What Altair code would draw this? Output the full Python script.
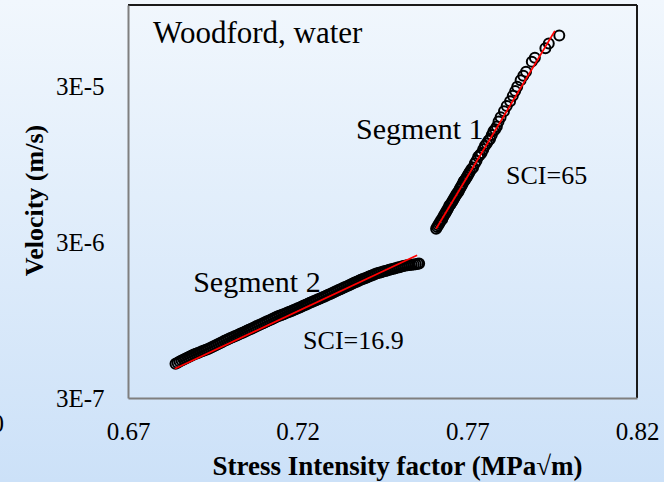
import altair as alt
import pandas as pd

# Segment 2 (slow branch): stress intensity factor K (MPa*sqrt(m)) and crack velocity (m/s)
k_seg2 = [
    0.6840, 0.6846, 0.6852, 0.6858, 0.6864, 0.6870, 0.6876, 0.6882, 0.6888, 0.6894,
    0.6900, 0.6906, 0.6912, 0.6918, 0.6924, 0.6930, 0.6936, 0.6942, 0.6948, 0.6954,
    0.6960, 0.6966, 0.6972, 0.6978, 0.6984, 0.6990, 0.6996, 0.7002, 0.7008, 0.7014,
    0.7020, 0.7026, 0.7032, 0.7038, 0.7044, 0.7050, 0.7056, 0.7062, 0.7068, 0.7074,
    0.7080, 0.7086, 0.7092, 0.7098, 0.7104, 0.7110, 0.7116, 0.7122, 0.7128, 0.7134,
    0.7140, 0.7146, 0.7152, 0.7158, 0.7164, 0.7170, 0.7176, 0.7182, 0.7188, 0.7194,
    0.7200, 0.7206, 0.7212, 0.7218, 0.7224, 0.7230, 0.7236, 0.7242, 0.7248, 0.7254,
    0.7260, 0.7266, 0.7272, 0.7278, 0.7284, 0.7290, 0.7296, 0.7302, 0.7308, 0.7314,
    0.7320, 0.7326, 0.7332, 0.7338, 0.7344, 0.7350, 0.7356, 0.7362, 0.7368, 0.7374,
    0.7380, 0.7386, 0.7392, 0.7398, 0.7404, 0.7410, 0.7416, 0.7422, 0.7428, 0.7434,
    0.7440, 0.7446, 0.7452, 0.7458, 0.7464, 0.7470, 0.7476, 0.7482, 0.7488, 0.7494,
    0.7500, 0.7506, 0.7512, 0.7518, 0.7524, 0.7530, 0.7536, 0.7542, 0.7548, 0.7554,
    0.7558,
]
v_seg2 = [
    4.98e-7, 5.06e-7, 5.14e-7, 5.22e-7, 5.30e-7, 5.38e-7, 5.46e-7, 5.54e-7, 5.62e-7, 5.70e-7,
    5.77e-7, 5.84e-7, 5.91e-7, 5.98e-7, 6.06e-7, 6.13e-7, 6.20e-7, 6.28e-7, 6.37e-7, 6.47e-7,
    6.57e-7, 6.67e-7, 6.77e-7, 6.87e-7, 6.98e-7, 7.08e-7, 7.18e-7, 7.28e-7, 7.37e-7, 7.47e-7,
    7.57e-7, 7.67e-7, 7.78e-7, 7.88e-7, 7.99e-7, 8.10e-7, 8.22e-7, 8.33e-7, 8.45e-7, 8.57e-7,
    8.69e-7, 8.81e-7, 8.94e-7, 9.06e-7, 9.19e-7, 9.32e-7, 9.45e-7, 9.58e-7, 9.72e-7, 9.85e-7,
    9.99e-7, 1.011e-6, 1.023e-6, 1.035e-6, 1.048e-6, 1.061e-6, 1.073e-6, 1.086e-6, 1.100e-6, 1.115e-6,
    1.130e-6, 1.145e-6, 1.160e-6, 1.176e-6, 1.192e-6, 1.208e-6, 1.225e-6, 1.241e-6, 1.257e-6, 1.274e-6,
    1.290e-6, 1.307e-6, 1.324e-6, 1.342e-6, 1.359e-6, 1.378e-6, 1.398e-6, 1.417e-6, 1.437e-6, 1.457e-6,
    1.478e-6, 1.499e-6, 1.520e-6, 1.541e-6, 1.562e-6, 1.584e-6, 1.607e-6, 1.629e-6, 1.652e-6, 1.675e-6,
    1.698e-6, 1.721e-6, 1.742e-6, 1.763e-6, 1.784e-6, 1.806e-6, 1.829e-6, 1.851e-6, 1.874e-6, 1.895e-6,
    1.911e-6, 1.928e-6, 1.944e-6, 1.961e-6, 1.978e-6, 1.995e-6, 2.012e-6, 2.030e-6, 2.045e-6, 2.061e-6,
    2.076e-6, 2.092e-6, 2.108e-6, 2.124e-6, 2.135e-6, 2.141e-6, 2.150e-6, 2.160e-6, 2.169e-6, 2.179e-6,
    2.188e-6,
]

# Segment 1 (fast branch)
k_seg1 = [
    0.7608, 0.7611, 0.7614, 0.7617, 0.7620, 0.7623, 0.7626, 0.7629, 0.7632, 0.7635,
    0.7638, 0.7641, 0.7644, 0.7647, 0.7650, 0.7653, 0.7656, 0.7659, 0.7662, 0.7665,
    0.7668, 0.7671, 0.7674, 0.7677, 0.7680, 0.7683, 0.7686, 0.7689, 0.7692, 0.7695,
    0.7698, 0.7701, 0.7704, 0.7707,
    0.7712, 0.7717, 0.7722, 0.7727, 0.7732, 0.7737, 0.7742, 0.7747, 0.7752, 0.7757,
    0.7762, 0.7767, 0.7772, 0.7777, 0.7782, 0.7787,
    0.7792, 0.7798, 0.7808, 0.7816, 0.7826, 0.7834, 0.7841, 0.7847, 0.7857, 0.7865,
    0.7873, 0.7890, 0.7899, 0.7930, 0.7940, 0.7971,
]
v_seg1 = [
    3.66e-6, 3.76e-6, 3.85e-6, 3.95e-6, 4.05e-6, 4.16e-6, 4.22e-6, 4.38e-6, 4.49e-6, 4.60e-6,
    4.72e-6, 4.84e-6, 4.97e-6, 5.16e-6, 5.23e-6, 5.36e-6, 5.50e-6, 5.64e-6, 5.79e-6, 5.94e-6,
    6.09e-6, 6.24e-6, 6.33e-6, 6.57e-6, 6.74e-6, 6.91e-6, 7.09e-6, 7.36e-6, 7.46e-6, 7.65e-6,
    7.85e-6, 8.05e-6, 8.26e-6, 8.47e-6,
    8.83e-6, 9.05e-6, 9.61e-6, 1.002e-5, 1.06e-5, 1.09e-5, 1.12e-5, 1.186e-5, 1.25e-5, 1.29e-5,
    1.345e-5, 1.38e-5, 1.463e-5, 1.55e-5, 1.592e-5, 1.66e-5,
    1.79e-5, 1.90e-5, 2.08e-5, 2.25e-5, 2.41e-5, 2.61e-5, 2.80e-5, 2.99e-5, 3.29e-5, 3.52e-5,
    3.73e-5, 4.33e-5, 4.59e-5, 5.27e-5, 5.66e-5, 6.37e-5,
]

# Power-law fits v = A*K^n with n = SCI, each pinned at an anchor point
fit_names = ["Segment 1", "Segment 2"]
sci = [65, 16.9]
fit_anchor_k = [0.7783, 0.7195]
fit_anchor_v = [1.607e-5, 1.092e-6]
fit_k_range = [(0.7608, 0.7958), (0.6838, 0.7552)]

# Annotations (text, K, v, font size)
note_text = ["Woodford, water", "Segment 1", "SCI=65", "Segment 2", "SCI=16.9"]
note_k = [0.6774, 0.7372, 0.7814, 0.6892, 0.7216]
note_v = [5.68e-5, 1.385e-5, 7.10e-6, 1.427e-6, 6.21e-7]
note_size = [31, 30, 26, 30, 26]

x_ticks = [0.67, 0.72, 0.77, 0.82]
y_ticks = [3e-7, 3e-6, 3e-5]

W, H = 509, 393
SERIF = "Liberation Serif"

pts2 = pd.DataFrame({"K": k_seg2, "v": v_seg2})
pts1 = pd.DataFrame({"K": k_seg1, "v": v_seg1})

fit_rows = []
for name, n, ka, va, (k0, k1) in zip(fit_names, sci, fit_anchor_k, fit_anchor_v, fit_k_range):
    for k in (k0, k1):
        fit_rows.append({"seg": name, "K": k, "v": va * (k / ka) ** n})
fits = pd.DataFrame(fit_rows)

notes = pd.DataFrame({"label": note_text, "K": note_k, "v": note_v, "fs": note_size})

x_enc = alt.X(
    "K:Q",
    scale=alt.Scale(domain=[0.67, 0.82], nice=False, zero=False),
    axis=alt.Axis(
        values=x_ticks, format=".2f", grid=False, ticks=False, tickSize=0, zindex=1,
        labelFlush=False, labelOverlap=False, labelBound=False,
        labelFont=SERIF, labelFontSize=25, labelColor="black", labelPadding=21,
        domainColor="#7f7f7f", domainWidth=2,
        title="Stress Intensity factor (MPa√m)", titleFont=SERIF, titleFontSize=27,
        titleFontWeight="bold", titleColor="black", titleX=269, titleY=76,
        titleAlign="center", titleBaseline="alphabetic",
    ),
)
y_enc = alt.Y(
    "v:Q",
    scale=alt.Scale(type="log", domain=[3e-7, 1e-4], nice=False),
    axis=alt.Axis(
        values=y_ticks, labelExpr="upper(format(datum.value, '.0e'))",
        grid=False, ticks=False, tickSize=0, zindex=1,
        labelOverlap=False, labelFlush=False,
        labelFont=SERIF, labelFontSize=25, labelColor="black", labelPadding=24,
        domainColor="#7f7f7f", domainWidth=2,
        title="Velocity (m/s)", titleFont=SERIF, titleFontSize=26,
        titleFontWeight="bold", titleColor="black", titleX=-86, titleY=195,
        titleAngle=270, titleAlign="center", titleBaseline="alphabetic",
    ),
)

one = pd.DataFrame({"i": [0]})

backdrop = alt.Chart(one).mark_rect(
    color=alt.LinearGradient(
        gradient="linear",
        stops=[alt.GradientStop(color="#f1f7fd", offset=0),
               alt.GradientStop(color="#cce1f8", offset=1)],
        x1=0, x2=0, y1=0, y2=1,
    )
).encode(x=alt.value(-128), x2=alt.value(536), y=alt.value(-5), y2=alt.value(477))

frame_top = alt.Chart(one).mark_rule(color="#1a1a1a", strokeWidth=2).encode(
    x=alt.value(0), x2=alt.value(W), y=alt.value(0)
)
frame_right = alt.Chart(one).mark_rule(color="#1a1a1a", strokeWidth=2).encode(
    x=alt.value(W), y=alt.value(0), y2=alt.value(H)
)

stray = alt.Chart(pd.DataFrame({"t": ["0"]})).mark_text(
    font=SERIF, fontSize=25, align="right", baseline="middle", color="black"
).encode(text="t:N", x=alt.value(-124), y=alt.value(419))

text_layer = alt.Chart(notes).mark_text(
    font=SERIF, align="left", baseline="alphabetic", color="black"
).encode(x=x_enc, y=y_enc, text="label:N", size=alt.Size("fs:Q", scale=None))

circle_style = dict(shape="circle", filled=False, color="black", size=100, strokeWidth=2, opacity=1)
seg2_layer = alt.Chart(pts2).mark_point(**circle_style).encode(x=x_enc, y=y_enc)
seg1_layer = alt.Chart(pts1).mark_point(**circle_style).encode(x=x_enc, y=y_enc)

fit_layer = alt.Chart(fits).mark_line(color="#ff0000", strokeWidth=1.8).encode(
    x=x_enc, y=y_enc, detail="seg:N"
)

chart = alt.layer(
    backdrop, stray, text_layer, seg2_layer, seg1_layer, fit_layer, frame_top, frame_right
).properties(
    width=W, height=H,
    padding={"left": 128, "top": 5, "right": 27, "bottom": 84},
    autosize=alt.AutoSizeParams(type="none"),
    background="#dae8f7",
).configure_view(stroke=None)

chart.save("out.html", embed_options={"renderer": "svg", "actions": False})
